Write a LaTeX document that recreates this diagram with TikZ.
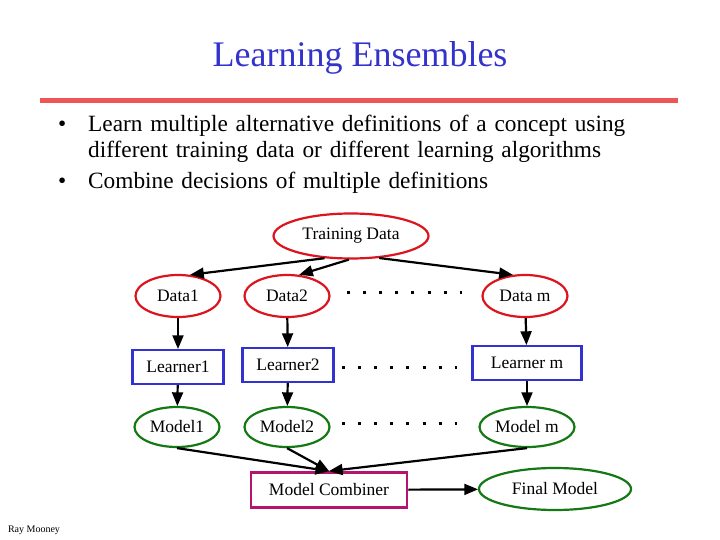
\documentclass[tikz,border=0pt]{standalone}
\usepackage{fontspec}
\setmainfont{Liberation Serif}
\usetikzlibrary{shapes.geometric,arrows,positioning}
\definecolor{titleblue}{RGB}{51,51,204}
\definecolor{rulered}{RGB}{240,85,85}
\definecolor{datared}{RGB}{220,20,30}
\definecolor{learnblue}{RGB}{50,50,210}
\definecolor{modelgreen}{RGB}{20,120,20}
\definecolor{combpurple}{RGB}{180,20,110}

\begin{document}
\begin{tikzpicture}[
        x=1pt, y=-1pt,
        font=\fontsize{17.5}{20}\selectfont,
        dataell/.style={ellipse, draw=datared, line width=2.2pt, minimum width=#1, minimum height=42pt, inner sep=0pt},
        modelell/.style={ellipse, draw=modelgreen, line width=2.2pt, minimum width=#1, minimum height=40pt, inner sep=0pt},
        learnbox/.style={rectangle, draw=learnblue, line width=2.2pt, minimum width=#1, minimum height=34pt, inner sep=0pt},
        arrow/.style={-triangle 45, line width=2.2pt},
        dotrow/.style={line width=3pt, dash pattern=on 3pt off 13.1pt}
    ]
        \useasboundingbox (0,0) rectangle (720,540);
        \node[text=titleblue, font=\fontsize{36}{40}\selectfont] (title) at (360,58) {Learning Ensembles};
        \draw[rulered, line width=5pt] (40,101) -- (678,101);
        \node[anchor=north west, align=left, text width=600pt, font=\fontsize{23.3}{25.5}\selectfont, inner sep=0pt] (bullets) at (58,115)
            {\makebox[30pt][l]{•}Learn multiple alternative definitions of a concept using\\
             \hspace*{30pt}different training data or different learning algorithms\\[6pt]
             \makebox[30pt][l]{•}Combine decisions of multiple definitions};

        \node[dataell=155pt, minimum height=45pt] (td) at (351,236) {Training Data};
        \node[dataell=85pt] (d1) at (178,296) {Data1};
        \node[dataell=85pt] (d2) at (287,296) {Data2};
        \node[dataell=85pt] (dm) at (525,296) {Data m};
        \node[learnbox=91pt] (l1) at (178,367) {Learner1};
        \node[learnbox=91pt] (l2) at (288,365) {Learner2};
        \node[learnbox=109pt] (lm) at (527,363) {Learner m};
        \node[modelell=85pt] (m1) at (177,427) {Model1};
        \node[modelell=85pt] (m2) at (287,427) {Model2};
        \node[modelell=95pt] (mm) at (527,427) {Model m};
        \node[rectangle, draw=combpurple, line width=2.8pt, minimum width=156pt, minimum height=35pt] (mc) at (329,490) {Model Combiner};
        \node[modelell=152pt, minimum height=42pt] (fm) at (555,489) {Final Model};
        \node[font=\fontsize{10}{11}\selectfont] (author) at (34,530) {Ray Mooney};

        % dotted rows
        \draw[dotrow] (347,292) -- (462,292);
        \draw[dotrow] (342,367) -- (457,367);
        \draw[dotrow] (342,423) -- (457,423);

        \draw[arrow] (td.220) -- (d1.60);
        \draw[arrow] (td.265) -- (d2.60);
        \draw[arrow] (td.-38) -- (dm.120);
        \draw[arrow] (d1) -- (l1);
        \draw[arrow] (d2) -- (l2);
        \draw[arrow] (dm) -- (lm);
        \draw[arrow] (l1) -- (m1);
        \draw[arrow] (l2) -- (m2);
        \draw[arrow] (lm) -- (mm);
        \draw[arrow] (m1.south) -- (mc.north);
        \draw[arrow] (m2.south) -- (mc.north);
        \draw[arrow] (mm.south) -- (mc.north);
        \draw[arrow] (mc) -- (fm);
    \end{tikzpicture}
\end{document}
